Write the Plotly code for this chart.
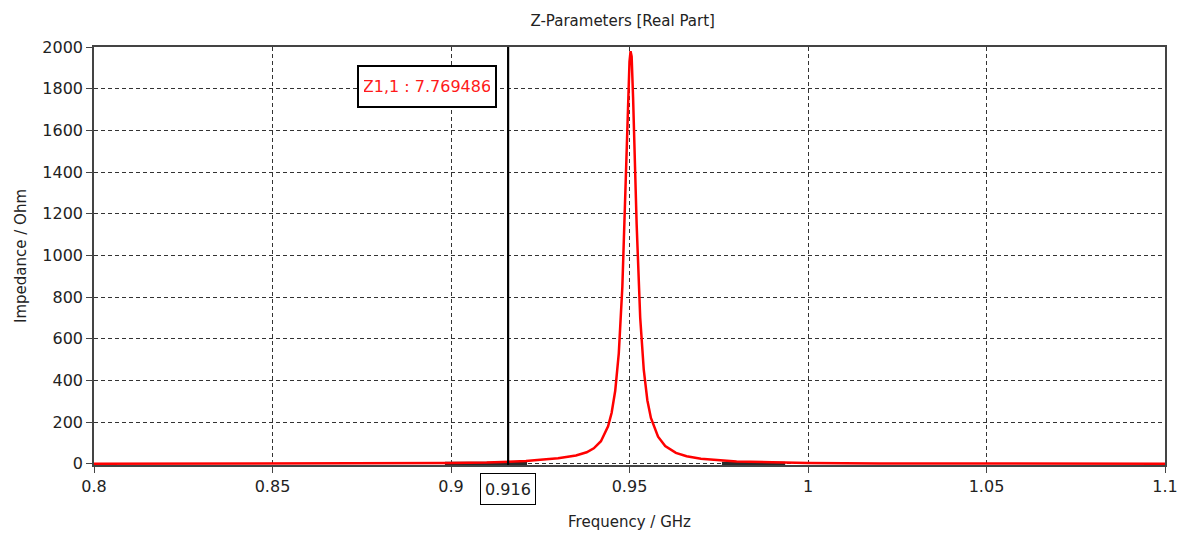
import plotly.graph_objects as go

# Data
freq_ghz = [0.800, 0.850, 0.880, 0.900, 0.910, 0.916, 0.921, 0.925, 0.930, 0.935,
            0.938, 0.940, 0.942, 0.944, 0.945, 0.946, 0.947, 0.948, 0.949, 0.9495,
            0.950, 0.9503, 0.9506, 0.951, 0.952, 0.953, 0.954, 0.955, 0.956, 0.958,
            0.960, 0.963, 0.966, 0.970, 0.976, 0.980, 0.990, 0.994, 1.000, 1.020,
            1.050, 1.080, 1.100]
z11_real = [0.4, 0.8, 1.6, 3.5, 5.5, 7.769486, 13, 19, 26, 40,
            55, 74, 108, 180, 245, 350, 530, 850, 1390, 1700,
            1930, 1980, 1955, 1760, 1150, 700, 450, 305, 220, 130,
            85, 52, 36, 24, 15, 11, 7, 5, 3.2, 1.6,
            0.8, 0.5, 0.4]

ref_seg1_x = [0.8983, 0.9213]
ref_seg1_y = [1.5, 1.5]
ref_seg2_x = [0.9759, 0.9936]
ref_seg2_y = [1.5, 1.5]

x_ticks = [0.8, 0.85, 0.9, 0.95, 1.0, 1.05, 1.1]
x_tick_labels = ["0.8", "0.85", "0.9", "0.95", "1", "1.05", "1.1"]
y_ticks = [0, 200, 400, 600, 800, 1000, 1200, 1400, 1600, 1800, 2000]

marker_freq = 0.916
marker_label = "Z1,1 : 7.769486"

FONT = "DejaVu Sans"

fig = go.Figure()
fig.add_trace(go.Scatter(x=ref_seg1_x, y=ref_seg1_y, mode="lines",
                         line=dict(color="#2a2a2a", width=3.5), showlegend=False, hoverinfo="skip"))
fig.add_trace(go.Scatter(x=ref_seg2_x, y=ref_seg2_y, mode="lines",
                         line=dict(color="#2a2a2a", width=3.5), showlegend=False, hoverinfo="skip"))
fig.add_trace(go.Scatter(x=freq_ghz, y=z11_real, mode="lines",
                         line=dict(color="#ff0000", width=2.5), showlegend=False))

# marker vertical line
fig.add_shape(type="line", xref="x", yref="paper", x0=marker_freq, x1=marker_freq,
              y0=0, y1=1, line=dict(color="black", width=2.2), layer="above")

fig.add_annotation(xref="x", yref="y", x=0.9130, y=1916, xanchor="right", yanchor="top",
                   text=marker_label, showarrow=False, width=126, height=29,
                   font=dict(family=FONT, size=16, color="#ff1a1a"),
                   bgcolor="white", bordercolor="black", borderwidth=2, borderpad=5)

fig.add_annotation(xref="x", yref="paper", x=marker_freq, y=-0.019, yanchor="top",
                   text=str(marker_freq), showarrow=False, width=46, height=22,
                   font=dict(family=FONT, size=16, color="#222"),
                   bgcolor="white", bordercolor="black", borderwidth=1, borderpad=4)

fig.update_layout(
    width=1194, height=534,
    margin=dict(l=94, r=29, t=47, b=69, autoexpand=False),
    paper_bgcolor="white", plot_bgcolor="white",
    title=dict(text="Z-Parameters [Real Part]", x=0.5215, xanchor="center", y=0.962, yanchor="middle",
               font=dict(family=FONT, size=15, color="#222")),
    font=dict(family=FONT, color="#222"),
    xaxis=dict(range=[0.8, 1.1], tickvals=x_ticks, ticktext=x_tick_labels, automargin=False,
               showgrid=True, gridcolor="#333", griddash="4px,3px", gridwidth=1,
               showline=True, linecolor="#444", linewidth=1.5, mirror=True,
               ticks="outside", ticklen=6, tickcolor="#444", tickfont=dict(size=16),
               zeroline=False,
               title=dict(text="Frequency / GHz", font=dict(size=15), standoff=22)),
    yaxis=dict(range=[-6, 2000], tickvals=y_ticks, automargin=False,
               showgrid=True, gridcolor="#333", griddash="4px,3px", gridwidth=1,
               showline=True, linecolor="#444", linewidth=1.5, mirror=True,
               ticks="outside", ticklen=6, tickcolor="#444", tickfont=dict(size=16),
               zeroline=False,
               title=dict(text="Impedance / Ohm", font=dict(size=15), standoff=12)),
)

fig.write_html("out.html")
